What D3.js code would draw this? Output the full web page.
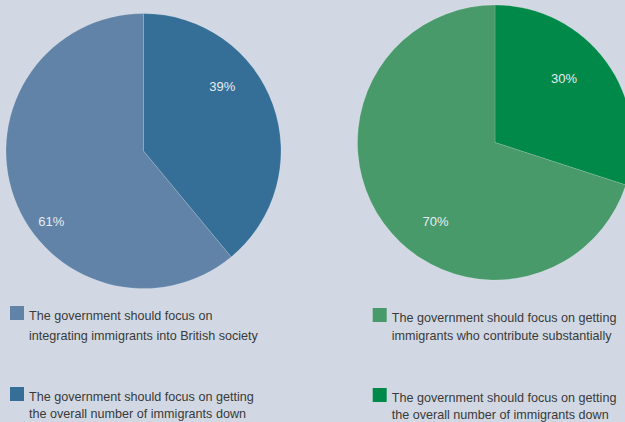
<!DOCTYPE html>
<html>
<head>
<meta charset="utf-8">
<script src="https://cdn.jsdelivr.net/npm/d3@7"></script>
<style>
  html, body { margin: 0; padding: 0; background: #d1d8e3; overflow: hidden; }
  svg { display: block; }
</style>
</head>
<body>
<svg id="chart" width="625" height="422"></svg>
<script>
// ---- data ----
const leftCategories = [
  "The government should focus on getting the overall number of immigrants down",
  "The government should focus on integrating immigrants into British society"
];
const leftValues = [39, 61];
const leftLabels = ["39%", "61%"];

const rightCategories = [
  "The government should focus on getting the overall number of immigrants down",
  "The government should focus on getting immigrants who contribute substantially"
];
const rightValues = [30, 70];
const rightLabels = ["30%", "70%"];

// legend text lines (as shown in the picture)
const leftLegendLines = [
  ["The government should focus on", "integrating immigrants into British society"],
  ["The government should focus on getting", "the overall number of immigrants down"]
];
const rightLegendLines = [
  ["The government should focus on getting", "immigrants who contribute substantially"],
  ["The government should focus on getting", "the overall number of immigrants down"]
];

// ---- styles / layout ----
const leftColors = ["#356f97", "#6083a7"];
const rightColors = ["#008948", "#489a6a"];
const R = 137.5;

const svg = d3.select("#chart");

function drawPie(cx, cy, values, labels, colors, labelFrac, labelR) {
  const g = svg.append("g").attr("transform", `translate(${cx},${cy})`);
  const pie = d3.pie().sort(null).value(d => d);
  const arcs = pie(values);
  const arc = d3.arc().innerRadius(0).outerRadius(R);
  g.selectAll("path").data(arcs).enter().append("path")
    .attr("d", arc)
    .attr("fill", (d, i) => colors[i])
    .attr("stroke", "rgba(255,255,255,0.25)")
    .attr("stroke-width", 0.6);
  g.selectAll("text").data(arcs).enter().append("text")
    .attr("transform", (d, i) => {
      const a = d.startAngle + labelFrac[i] * (d.endAngle - d.startAngle);
      const c = d3.arc().innerRadius(labelR[i]).outerRadius(labelR[i]).startAngle(a).endAngle(a).centroid();
      return `translate(${c[0]},${c[1]})`;
    })
    .attr("text-anchor", "middle")
    .attr("dominant-baseline", "central")
    .attr("font-family", "'Liberation Sans', Arial, sans-serif")
    .attr("font-size", 13)
    .attr("fill", "#e6ecf3")
    .text((d, i) => labels[i]);
}

drawPie(143.5, 151, leftValues, leftLabels, leftColors, [0.36, 0.42], [102, 116]);
drawPie(495, 142.5, rightValues, rightLabels, rightColors, [0.435, 0.432], [94.5, 99]);

function drawLegend(x, items, colors, tops, spacings) {
  items.forEach((lines, i) => {
    const g = svg.append("g");
    g.append("rect")
      .attr("x", x).attr("y", tops[i])
      .attr("width", 14).attr("height", 14)
      .attr("fill", colors[i]);
    lines.forEach((t, j) => {
      g.append("text")
        .attr("x", x + 19)
        .attr("y", tops[i] + 14 + j * spacings[i])
        .attr("font-family", "'Liberation Sans', Arial, sans-serif")
        .attr("font-size", 12.6)
        .attr("fill", "#3a3a3a")
        .text(t);
    });
  });
}

// left legend: light slice first, then dark
drawLegend(10, leftLegendLines, [leftColors[1], leftColors[0]], [306, 387], [20, 17]);
drawLegend(372.7, rightLegendLines, [rightColors[1], rightColors[0]], [308, 388], [17.5, 17]);
</script>
</body>
</html>
